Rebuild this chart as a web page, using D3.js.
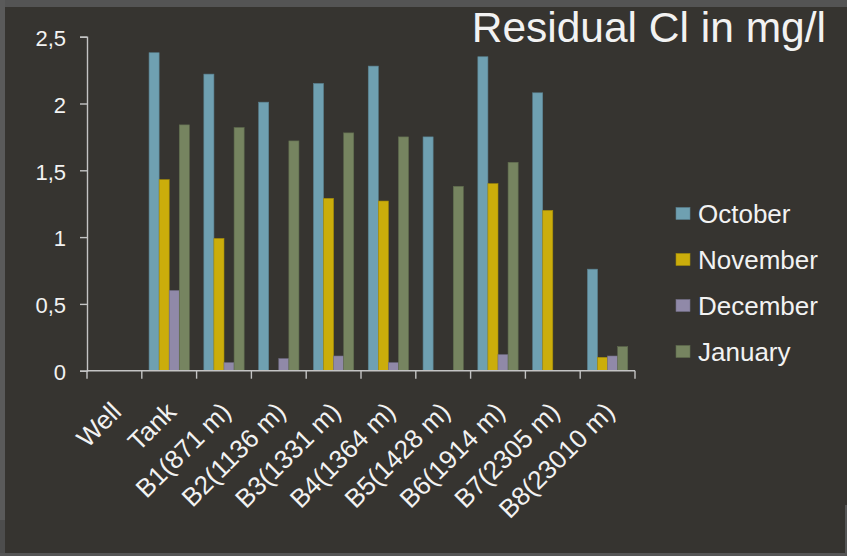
<!DOCTYPE html>
<html>
<head>
<meta charset="utf-8">
<script src="https://cdn.jsdelivr.net/npm/d3@7"></script>
<style>
  html, body { margin: 0; padding: 0; background: #363430; }
  svg { display: block; }
  text { font-family: "Liberation Sans", Arial, sans-serif; fill: #f2f2f2; }
</style>
</head>
<body>
<svg id="chart" width="847" height="556"></svg>
<script>
// Sampling points along the distribution line
const categories = ["Well", "Tank", "B1(871 m)", "B2(1136 m)", "B3(1331 m)", "B4(1364 m)",
                    "B5(1428 m)", "B6(1914 m)", "B7(2305 m)", "B8(23010 m)"];

// Residual chlorine (mg/l) per month; null = no measurement
const october  = [null, 2.38, 2.22, 2.01, 2.15, 2.28, 1.75, 2.35, 2.08, 0.76];
const november = [null, 1.43, 0.99, null, 1.29, 1.27, null, 1.40, 1.20, 0.10];
const december = [null, 0.60, 0.06, 0.09, 0.11, 0.06, null, 0.12, null, 0.11];
const january  = [null, 1.84, 1.82, 1.72, 1.78, 1.75, 1.38, 1.56, null, 0.18];

const seriesNames = ["October", "November", "December", "January"];
const yTicks = [0, 0.5, 1, 1.5, 2, 2.5];
const yTickLabels = ["0", "0,5", "1", "1,5", "2", "2,5"];
const title = "Residual Cl in mg/l";

const series = [
  { name: seriesNames[0], values: october,  color: "#6fa0b1" },
  { name: seriesNames[1], values: november, color: "#cbad0b" },
  { name: seriesNames[2], values: december, color: "#9089a8" },
  { name: seriesNames[3], values: january,  color: "#768460" }
];

const svg = d3.select("#chart");
const W = 847, H = 556;

// slide frame
svg.append("rect").attr("width", W).attr("height", H).attr("fill", "#363430");
svg.append("rect").attr("x", 0).attr("y", 0).attr("width", W).attr("height", 7).attr("fill", "#545454");
svg.append("rect").attr("x", 0).attr("y", 0).attr("width", 5).attr("height", 520).attr("fill", "#5a5a5a");
svg.append("rect").attr("x", 0).attr("y", 520).attr("width", 5).attr("height", 36).attr("fill", "#4d4d4d");
svg.append("rect").attr("x", 0).attr("y", 553).attr("width", W).attr("height", 3).attr("fill", "#555555");
svg.append("rect").attr("x", 845).attr("y", 505).attr("width", 2).attr("height", 51).attr("fill", "#555555");

const plotLeft = 87, plotRight = 635, plotTop = 36.7, plotBottom = 370.7;

const x = d3.scaleBand().domain(categories).range([plotLeft, plotRight]).paddingInner(0).paddingOuter(0);
const xs = d3.scaleBand().domain(seriesNames).range([0, x.bandwidth()]).paddingInner(0).paddingOuter(0.72);
const y = d3.scaleLinear().domain([0, 2.5]).range([plotBottom, plotTop]);

// bars
series.forEach(s => {
  svg.append("g").selectAll("rect")
    .data(categories.map((c, i) => ({ c, v: s.values[i] })).filter(d => d.v != null))
    .join("rect")
    .attr("x", d => x(d.c) + xs(s.name))
    .attr("y", d => y(d.v))
    .attr("width", xs.bandwidth())
    .attr("height", d => y(0) - y(d.v))
    .attr("fill", s.color)
    .attr("stroke", d3.color(s.color).darker(0.6))
    .attr("stroke-width", 0.6);
});

// y axis
const yAxis = d3.axisLeft(y).tickValues(yTicks).tickSize(7).tickPadding(14)
  .tickFormat((d, i) => yTickLabels[i]);
const gy = svg.append("g").attr("transform", `translate(${plotLeft},0)`).call(yAxis);
gy.select(".domain").attr("stroke", "#c4c4c4").attr("stroke-width", 1.4);
gy.selectAll(".tick line").attr("stroke", "#c4c4c4").attr("stroke-width", 1.4);
gy.selectAll(".tick text").attr("fill", "#f2f2f2").attr("font-size", 22)
  .attr("font-family", "Liberation Sans, Arial, sans-serif").attr("dy", "0.4em");

// x axis: line plus ticks at category boundaries
const gx = svg.append("g");
gx.append("line").attr("x1", plotLeft).attr("x2", plotRight).attr("y1", plotBottom).attr("y2", plotBottom)
  .attr("stroke", "#c4c4c4").attr("stroke-width", 1.4);
const bounds = categories.map(c => x(c)).concat([plotRight]);
gx.selectAll("line.tk").data(bounds).join("line").attr("class", "tk")
  .attr("x1", d => d).attr("x2", d => d).attr("y1", plotBottom).attr("y2", plotBottom + 8)
  .attr("stroke", "#c4c4c4").attr("stroke-width", 1.4);

// rotated category labels
gx.selectAll("text").data(categories).join("text")
  .attr("transform", d => `translate(${x(d) + x.bandwidth() / 2 + 2},407) rotate(-45)`)
  .attr("text-anchor", "end")
  .attr("dy", "0.35em")
  .attr("font-size", 26)
  .text(d => d);

// title
svg.append("text").attr("x", 826).attr("y", 41.5).attr("text-anchor", "end")
  .attr("font-size", 42.5).text(title);

// legend
const lg = svg.append("g");
series.forEach((s, i) => {
  const cy = 213.5 + i * 46;
  lg.append("rect").attr("x", 676).attr("y", cy - 6).attr("width", 14).attr("height", 12)
    .attr("fill", s.color).attr("stroke", d3.color(s.color).darker(0.6)).attr("stroke-width", 0.6);
  lg.append("text").attr("x", 698).attr("y", cy + 9.5).attr("font-size", 26).text(s.name);
});
</script>
</body>
</html>
